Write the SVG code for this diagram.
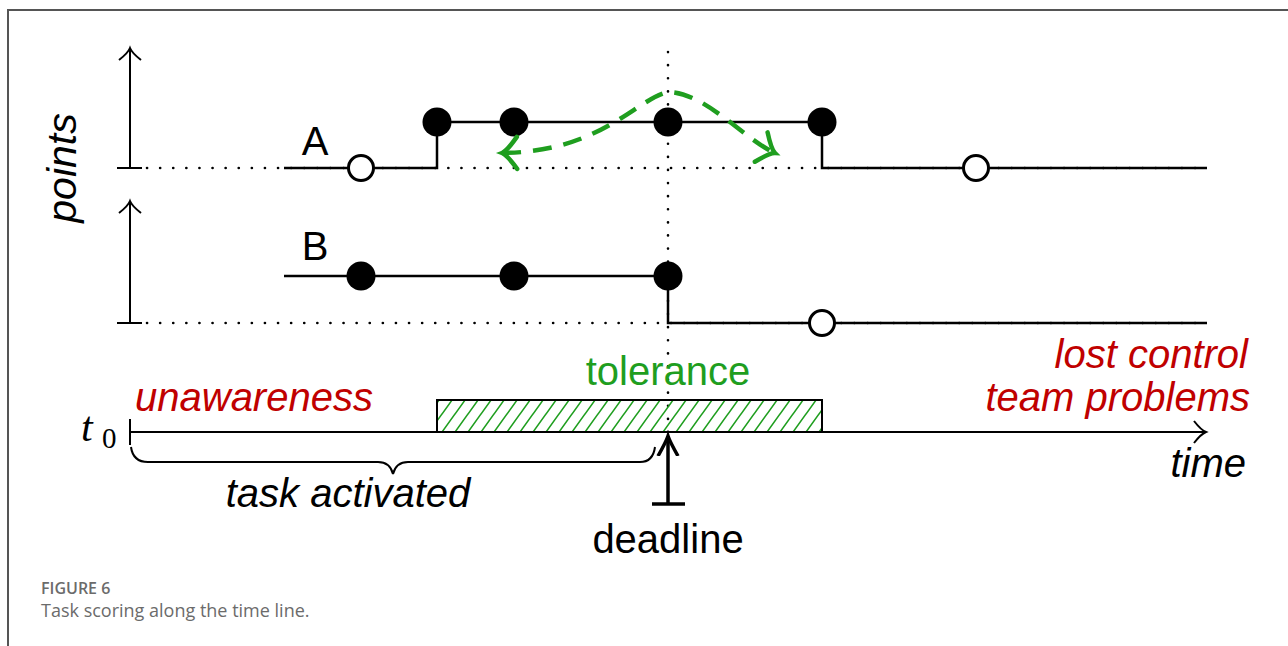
<svg xmlns="http://www.w3.org/2000/svg" width="1288" height="646" viewBox="0 0 1288 646">
<style>
.ln{stroke:#000;stroke-width:2.5;fill:none}
.ax{stroke:#000;stroke-width:2;fill:none}
.dot{stroke:#000;stroke-width:2.6;fill:none;stroke-dasharray:0.1 13;stroke-linecap:round}
.full{fill:#000}
.open{fill:#fff;stroke:#000;stroke-width:3}
.sans{font-family:"Liberation Sans",Arial,sans-serif}
.it{font-style:italic}
.red{fill:#c00000}
.grn{fill:#1f9e1f}
</style>
<defs>
<marker id="to" markerWidth="30" markerHeight="30" refX="0" refY="0" viewBox="-15 -15 30 30" orient="auto" markerUnits="userSpaceOnUse">
<path d="M-12,-11 Q-5,-2 0,0 Q-5,2 -12,11" fill="none" stroke="#000" stroke-width="2"/>
</marker>
<marker id="gto" markerWidth="40" markerHeight="40" refX="0" refY="0" viewBox="-20 -20 40 40" orient="auto-start-reverse" markerUnits="userSpaceOnUse">
<path d="M-15,-16 Q-5,-2 0,0 Q-5,2 -15,16" fill="none" stroke="#1f9e1f" stroke-width="4.5" stroke-linecap="round"/>
</marker>
<marker id="dl" markerWidth="40" markerHeight="40" refX="0" refY="0" viewBox="-20 -20 40 40" orient="auto" markerUnits="userSpaceOnUse">
<path d="M-20,-10 Q-6,-2 0,0 Q-6,2 -20,10" fill="none" stroke="#000" stroke-width="3.5"/>
</marker>
<pattern id="hatch" patternUnits="userSpaceOnUse" width="13" height="18">
<path d="M0,18 L13,0 M-3,4.15 L3,-4.15 M10,22.15 L16,13.85" stroke="#1f9e1f" stroke-width="1.6"/>
</pattern>
</defs>
<rect width="1288" height="646" fill="#fff"/>
<g id="frame">
<path d="M8,646 L8,10 L1288,10" fill="none" stroke="#555" stroke-width="2"/>
</g>
<g id="axes">
<line class="ax" x1="130" y1="168" x2="130" y2="48" marker-end="url(#to)"/>
<line class="ax" x1="117" y1="168" x2="142" y2="168"/>
<line class="ax" x1="130" y1="323" x2="130" y2="201" marker-end="url(#to)"/>
<line class="ax" x1="117" y1="323" x2="142" y2="323"/>
<line class="ax" x1="130" y1="432" x2="1206" y2="432" marker-end="url(#to)"/>
<line class="ax" x1="130" y1="419" x2="130" y2="445"/>
</g>
<g id="dotted">
<line class="dot" x1="147" y1="168" x2="1205" y2="168"/>
<line class="dot" x1="147" y1="323" x2="1205" y2="323"/>
<line class="dot" x1="668" y1="52" x2="668" y2="432"/>
</g>
<g id="tolerance-bar">
<rect x="437" y="400" width="385" height="32" fill="url(#hatch)" stroke="#000" stroke-width="2"/>
<text class="sans grn" x="668" y="385" font-size="40" text-anchor="middle">tolerance</text>
</g>
<g id="series-A">
<path class="ln" d="M284,168 L437,168 L437,122 L822,122 L822,168 L1207,168"/>
<circle class="open" cx="361" cy="168" r="12.5"/>
<circle class="full" cx="437" cy="122" r="14.5"/>
<circle class="full" cx="514" cy="122" r="14.5"/>
<circle class="full" cx="668" cy="122" r="14.5"/>
<circle class="full" cx="822" cy="122" r="14.5"/>
<circle class="open" cx="976" cy="168" r="12.5"/>
<text class="sans" x="315" y="155" font-size="40" text-anchor="middle">A</text>
</g>
<g id="series-B">
<path class="ln" d="M284,276 L668,276 L668,323 L1207,323"/>
<circle class="full" cx="361" cy="276" r="14.5"/>
<circle class="full" cx="514" cy="276" r="14.5"/>
<circle class="full" cx="668" cy="276" r="14.5"/>
<circle class="open" cx="822" cy="323" r="12.5"/>
<text class="sans" x="315" y="260" font-size="40" text-anchor="middle">B</text>
</g>
<g id="connectors">
<path d="M502,153 C600,152 635,100 668,92 C705,92 745,140 775,153" fill="none" stroke="#1f9e1f" stroke-width="4.5" stroke-dasharray="19 12" marker-start="url(#gto)" marker-end="url(#gto)"/>
<line x1="668" y1="504" x2="668" y2="436" stroke="#000" stroke-width="3.5" marker-end="url(#dl)"/>
<line x1="652" y1="504" x2="685" y2="504" stroke="#000" stroke-width="3.5"/>
<path d="M131,447 Q133,462 148,462 L378,462 Q390,462 393,474 Q396,462 408,462 L640,462 Q653,462 655,447" fill="none" stroke="#000" stroke-width="2"/>
</g>
<g id="labels">
<text class="sans it" transform="translate(76,168) rotate(-90)" font-size="41" text-anchor="middle">points</text>
<text font-family="Liberation Serif,serif" font-style="italic" font-size="42" x="81" y="441">t</text>
<text font-family="Liberation Serif,serif" font-size="29" x="102" y="448">0</text>
<text class="sans it red" x="135" y="411" font-size="40">unawareness</text>
<text class="sans it red" x="1248" y="368" font-size="40" text-anchor="end">lost control</text>
<text class="sans it red" x="1250" y="411" font-size="40" text-anchor="end">team problems</text>
<text class="sans it" x="1246" y="477" font-size="40" text-anchor="end">time</text>
<text class="sans it" x="348" y="507" font-size="40" text-anchor="middle">task activated</text>
<text class="sans" x="668" y="553" font-size="40" text-anchor="middle">deadline</text>
</g>
<g id="caption">
<text font-family="'Open Sans',sans-serif" font-weight="600" font-size="16" fill="#6b6b6b" x="41" y="594">FIGURE 6</text>
<text font-family="'Open Sans',sans-serif" font-size="18" fill="#6b6b6b" x="41" y="617">Task scoring along the time line.</text>
</g>
</svg>
